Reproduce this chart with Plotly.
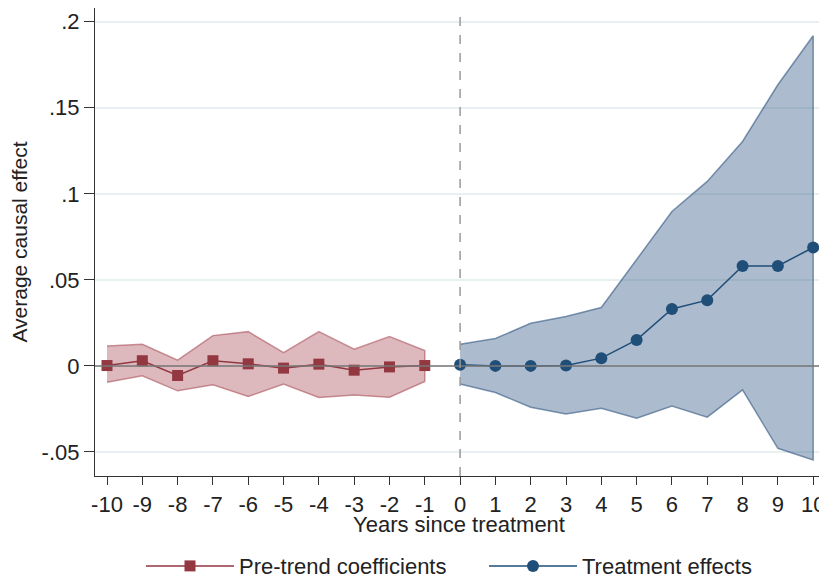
import plotly.graph_objects as go

pre_years = [-10, -9, -8, -7, -6, -5, -4, -3, -2, -1]
pre_coef = [0.0002, 0.003, -0.0056, 0.003, 0.0012, -0.0013, 0.001, -0.0025, -0.0006, 0.0002]
pre_upper = [0.0116, 0.0126, 0.0033, 0.0176, 0.0199, 0.0077, 0.0199, 0.0097, 0.017, 0.0089]
pre_lower = [-0.0095, -0.0058, -0.0145, -0.011, -0.0178, -0.0105, -0.0184, -0.0169, -0.0182, -0.0091]

post_years = [0, 1, 2, 3, 4, 5, 6, 7, 8, 9, 10]
post_coef = [0.0006, 0.0, 0.0, 0.0002, 0.0045, 0.0151, 0.0331, 0.0382, 0.0581, 0.0581, 0.0688]
post_upper = [0.0126, 0.0159, 0.0248, 0.0287, 0.0339, 0.0616, 0.0897, 0.1072, 0.1304, 0.1634, 0.1919]
post_lower = [-0.0105, -0.0155, -0.024, -0.0279, -0.0246, -0.0304, -0.0233, -0.0298, -0.014, -0.0479, -0.0547]

y_ticks = [-0.05, 0, 0.05, 0.1, 0.15, 0.2]
y_tick_labels = ["-.05", "0", ".05", ".1", ".15", ".2"]
x_ticks = list(range(-10, 11))
x_tick_labels = [str(v) for v in x_ticks]  # plain hyphen, as in the original

red = "#933741"
blue = "#1f4e79"

fig = go.Figure()

# confidence bands as closed polygons
fig.add_trace(
    go.Scatter(
        x=pre_years + pre_years[::-1],
        y=pre_upper + pre_lower[::-1],
        fill="toself",
        fillcolor="rgba(180,100,108,0.45)",
        line=dict(color="rgba(170,80,90,0.6)", width=1.5),
        mode="lines",
        showlegend=False,
        hoverinfo="skip",
    )
)
fig.add_trace(
    go.Scatter(
        x=post_years + post_years[::-1],
        y=post_upper + post_lower[::-1],
        fill="toself",
        fillcolor="rgba(70,105,145,0.45)",
        line=dict(color="rgba(60,95,135,0.65)", width=1.5),
        mode="lines",
        showlegend=False,
        hoverinfo="skip",
    )
)

fig.add_hline(y=0, line=dict(color="#777777", width=1.5))
fig.add_vline(x=0, line=dict(color="#999999", width=1.5, dash="dash"))

fig.add_trace(
    go.Scatter(
        x=pre_years,
        y=pre_coef,
        mode="lines+markers",
        name="Pre-trend coefficients",
        line=dict(color=red, width=1.5),
        marker=dict(symbol="square", size=11, color=red),
    )
)
fig.add_trace(
    go.Scatter(
        x=post_years,
        y=post_coef,
        mode="lines+markers",
        name="Treatment effects",
        line=dict(color=blue, width=1.5),
        marker=dict(symbol="circle", size=12, color=blue),
    )
)

# page body has an 8px margin, so the figure is 8px smaller than the window
fig.update_layout(
    width=819,
    height=573,
    margin=dict(l=87, r=5, t=0, b=105),
    paper_bgcolor="white",
    plot_bgcolor="white",
    font=dict(family="Liberation Sans, Arial, sans-serif", size=22, color="#222222"),
    legend=dict(
        orientation="h",
        yref="container",
        yanchor="middle",
        y=0.026,
        xanchor="left",
        x=0.075,
        font=dict(size=22),
        itemwidth=88,
        entrywidth=240,
    ),
    xaxis=dict(
        range=[-10.34, 10.25],
        tickmode="array",
        tickvals=x_ticks,
        ticktext=x_tick_labels,
        ticks="outside",
        ticklen=8,
        tickcolor="#333333",
        tickfont=dict(size=22),
        showgrid=False,
        zeroline=False,
        showline=True,
        linecolor="#333333",
        linewidth=1.2,
        automargin=False,
    ),
    yaxis=dict(
        range=[-0.064, 0.208],
        tickmode="array",
        tickvals=y_ticks,
        ticktext=y_tick_labels,
        ticks="outside",
        ticklen=10,
        tickcolor="#333333",
        tickfont=dict(size=22),
        showgrid=True,
        gridcolor="#e8f0f2",
        gridwidth=1.5,
        zeroline=False,
        showline=True,
        linecolor="#333333",
        linewidth=1.2,
        automargin=False,
        title=dict(text="Average causal effect", standoff=12, font=dict(size=21)),
    ),
    annotations=[
        dict(
            text="Years since treatment",
            xref="paper",
            yref="paper",
            x=0.5,
            y=-0.104,
            xanchor="center",
            yanchor="middle",
            showarrow=False,
            font=dict(size=22),
        )
    ],
)

fig.write_html("out.html")
